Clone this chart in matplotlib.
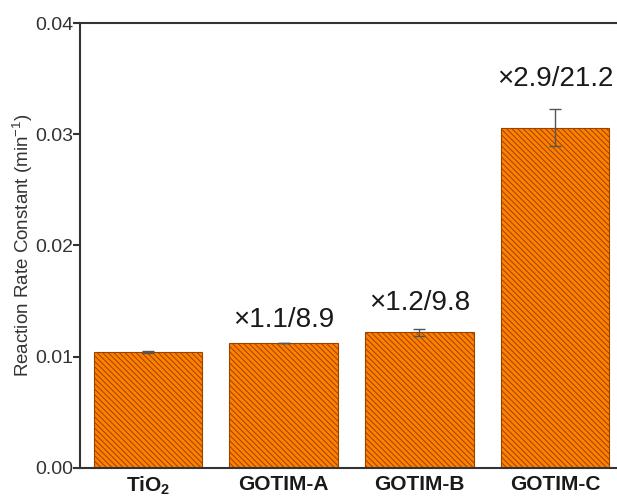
import numpy as np
import matplotlib.pyplot as plt

plt.rcParams['font.family'] = ['Liberation Sans', 'DejaVu Sans']
plt.rcParams['mathtext.fontset'] = 'custom'
plt.rcParams['mathtext.rm'] = 'Liberation Sans'
plt.rcParams['mathtext.bf'] = 'Liberation Sans:bold'
plt.rcParams['mathtext.default'] = 'regular'
plt.rcParams['hatch.linewidth'] = 0.7

samples = ["TiO$_2$", "GOTIM-A", "GOTIM-B", "GOTIM-C"]
rate = [0.0104, 0.0112, 0.0122, 0.0306]
rate_err = [0.0001, 0.0, 0.0003, 0.0017]
ratio = [None, "×1.1/8.9", "×1.2/9.8", "×2.9/21.2"]
label_y = [None, 0.0121, 0.0137, 0.0338]

fig = plt.figure(figsize=(6.17, 4.97), dpi=100)
ax = fig.add_axes([0.1297, 0.0584, 0.88, 0.8953])

x = np.arange(len(samples))
ax.bar(x, rate, width=0.8, color='#ff8000', edgecolor='#9a4200',
       linewidth=0.8, hatch='\\' * 6)
ax.errorbar(x, rate, yerr=rate_err, fmt='none', ecolor='#555555',
            elinewidth=1.0, capsize=4, capthick=1.0)

for xi, txt, yy in zip(x, ratio, label_y):
    if txt:
        ax.text(xi, yy, txt, ha='center', va='bottom', fontsize=20, color='#1a1a1a')

ax.set_xlim(-0.5, 3.5)
ax.set_ylim(0, 0.04)
ax.set_yticks([0, 0.01, 0.02, 0.03, 0.04])
ax.set_yticklabels(["0.00", "0.01", "0.02", "0.03", "0.04"])
ax.set_xticks(x)
ax.set_xticklabels(samples, fontweight='bold')
ax.tick_params(axis='y', direction='out', length=5, width=1.5, labelsize=14,
               colors='#333333', pad=0)
ax.tick_params(axis='x', length=0, labelsize=15, pad=5, colors='#1a1a1a')
ax.set_ylabel("Reaction Rate Constant (min$^{-1}$)", fontsize=13.5, color='#333333',
              labelpad=0)

for s in ax.spines.values():
    s.set_linewidth(1.5)
    s.set_color('#333333')

fig.savefig("out.png", dpi=100)
